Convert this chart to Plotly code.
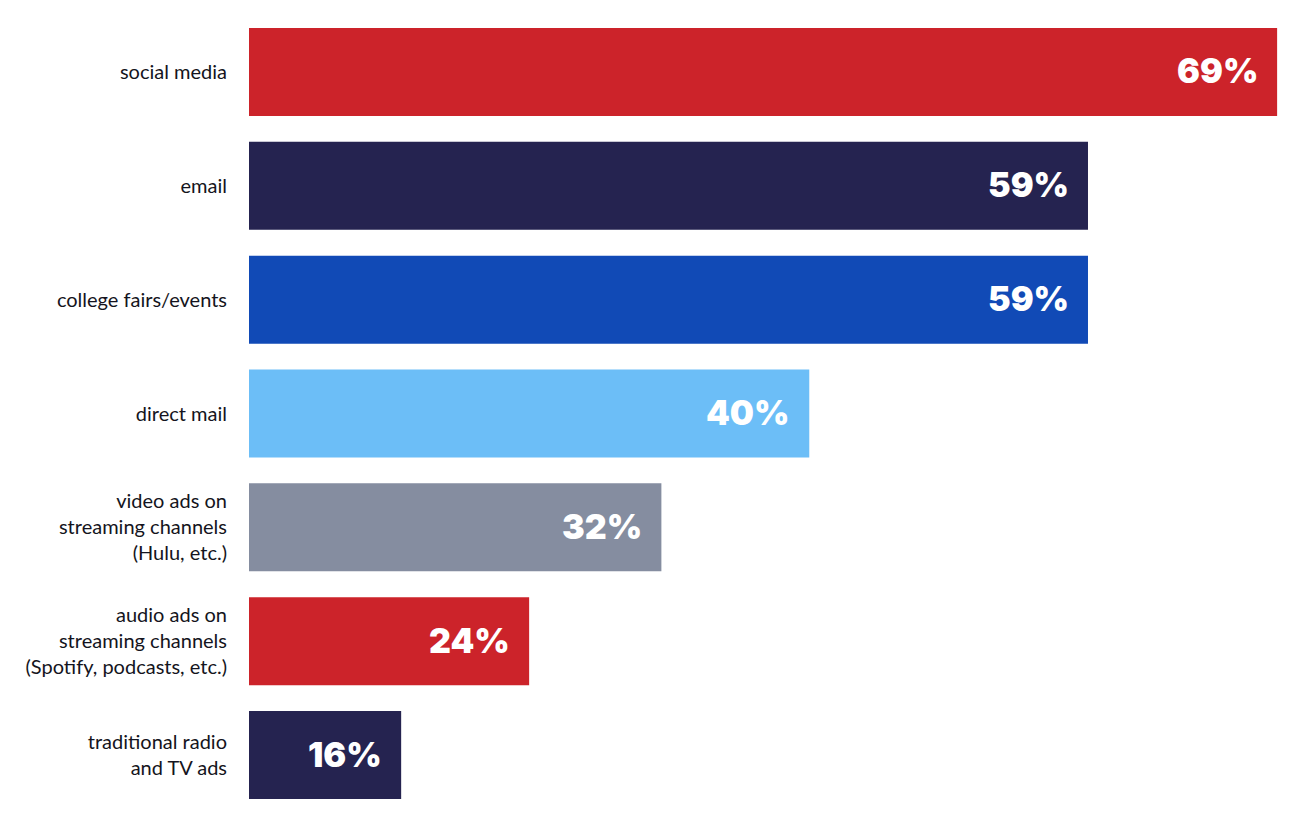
import plotly.graph_objects as go

categories = [
    "social media",
    "email",
    "college fairs/events",
    "direct mail",
    "video ads on<br>streaming channels<br>(Hulu, etc.)",
    "audio ads on<br>streaming channels<br>(Spotify, podcasts, etc.)",
    "traditional radio<br>and TV ads",
]
labels = ["69%", "59%", "59%", "40%", "32%", "24%", "16%"]
# bar lengths as drawn in the picture (email = 59 as reference unit)
bar_lengths = [72.3, 59.0, 59.0, 39.4, 29.0, 19.7, 10.7]
colors = ["#CC232A", "#252350", "#114AB6", "#6CBEF7", "#858DA0", "#CC232A", "#252350"]

fig = go.Figure()
fig.add_trace(go.Bar(
    y=categories,
    x=bar_lengths,
    orientation="h",
    marker=dict(color=colors, line=dict(width=0)),
    hoverinfo="skip",
))

for cat, val, lab in zip(categories, bar_lengths, labels):
    fig.add_annotation(
        x=val, y=cat, text=lab, showarrow=False,
        xanchor="right", yanchor="middle", xshift=-17, yshift=1,
        font=dict(family="Inter", size=34, color="white", weight=900),
    )

fig.update_layout(
    width=1295, height=808,
    margin=dict(l=241, r=0, t=7, b=4),
    paper_bgcolor="white", plot_bgcolor="white",
    bargap=0.227,
    showlegend=False,
    xaxis=dict(range=[0, 74.12], visible=False, fixedrange=True),
    yaxis=dict(
        autorange="reversed", showgrid=False, zeroline=False, showline=False,
        ticks="", ticklabelstandoff=21,
        tickfont=dict(family="Lato", size=20, color="#141420"),
    ),
)

fig.write_html("out.html")
